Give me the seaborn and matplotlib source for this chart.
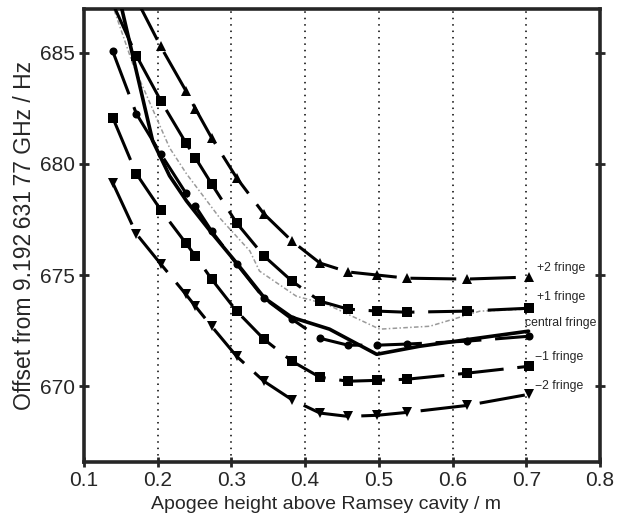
import numpy as np
import pandas as pd
import matplotlib
matplotlib.use("Agg")
import matplotlib.pyplot as plt
import seaborn as sns

# Apogee heights (m) at which each fringe was measured
heights = [0.139, 0.171, 0.204, 0.238, 0.251, 0.273, 0.307, 0.344,
           0.382, 0.420, 0.458, 0.498, 0.538, 0.619, 0.703]

# Frequency offsets (Hz) of each fringe
plus2 = [np.nan, 687.4, 685.27, 683.29, 682.48, 681.17, 679.37, 677.75,
         676.53, 675.54, 675.14, 675.00, 674.86, 674.82, 674.91]
plus1 = [687.2, 684.86, 682.84, 680.95, 680.27, 679.10, 677.34, 675.86,
         674.73, 673.83, 673.47, 673.38, 673.33, 673.38, 673.51]
central = [685.05, 682.25, 680.45, 678.69, 678.10, 676.98, 675.50, 673.96,
           673.02, 672.16, 671.85, 671.85, 671.90, 672.03, 672.25]
minus1 = [682.07, 679.55, 677.93, 676.44, 675.86, 674.82, 673.38, 672.12,
          671.13, 670.41, 670.23, 670.27, 670.32, 670.59, 670.90]
minus2 = [679.14, 676.85, 675.50, 674.14, 673.60, 672.70, 671.35, 670.23,
          669.40, 668.80, 668.65, 668.70, 668.83, 669.14, 669.64]

# Smooth curves drawn without markers
model_h = [0.151, 0.193, 0.216, 0.239, 0.273, 0.308, 0.345, 0.382,
           0.433, 0.497, 0.555, 0.633, 0.703]
model_f = [687.0, 681.04, 679.46, 678.33, 676.90, 675.50, 673.96, 673.10,
           672.57, 671.44, 671.80, 672.16, 672.48]
grey_h = [0.141, 0.166, 0.216, 0.239, 0.284, 0.325, 0.338, 0.388,
          0.429, 0.501, 0.569, 0.637, 0.705]
grey_f = [686.9, 684.5, 680.72, 679.55, 677.57, 676.08, 675.18, 674.05,
          673.69, 672.57, 672.70, 673.38, 673.47]

fringe_labels = ["+2 fringe", "+1 fringe", "central fringe",
                 "\u22121 fringe", "\u22122 fringe"]

sns.set_theme(style="ticks")
plt.rcParams["font.family"] = ["Liberation Sans", "DejaVu Sans"]

fig = plt.figure(figsize=(6.21, 5.20), dpi=100)
ax = fig.add_axes([0.1353, 0.1115, 0.831, 0.871])

# dotted vertical guides
for gx in [0.2, 0.3, 0.4, 0.5, 0.6, 0.7]:
    ax.axvline(gx, color="black", lw=1.1, ls=(0, (1, 3.2)), zorder=0)

sns.lineplot(x=grey_h, y=grey_f, ax=ax, color="#9a9a9a", lw=1.1,
             ls=(0, (3, 1.5, 1, 1.5)), sort=False, zorder=2)
sns.lineplot(x=model_h, y=model_f, ax=ax, color="black", lw=2.6,
             sort=False, zorder=3)

dash = (0, (15, 4.5))
series = [(plus2, "^", 7.5), (plus1, "s", 7), (central, "o", 5.8),
          (minus1, "s", 7), (minus2, "v", 7.5)]
for vals, mk, ms in series:
    df = pd.DataFrame({"h": heights, "f": vals}).dropna()
    sns.lineplot(data=df, x="h", y="f", ax=ax, color="black", lw=2.2,
                 ls=dash, marker=mk, markersize=ms, markeredgewidth=0,
                 sort=False, zorder=4)

# labels at the right end of each fringe
label_y = [675.3, 674.0, 672.85, 671.3, 670.0]
label_x = [0.714, 0.714, 0.698, 0.712, 0.712]
for lx, ly, txt in zip(label_x, label_y, fringe_labels):
    ax.text(lx, ly, txt, fontsize=8.8, va="center", ha="left")

ax.set_xlim(0.1, 0.8)
ax.set_ylim(666.6, 686.95)
ax.set_xticks([0.1, 0.2, 0.3, 0.4, 0.5, 0.6, 0.7, 0.8])
ax.set_yticks([670, 675, 680, 685])
ax.tick_params(axis="both", direction="inout", length=7, width=2,
               labelsize=15, top=False, right=True, pad=3)
for sp in ax.spines.values():
    sp.set_linewidth(2.6)
    sp.set_visible(True)

ax.set_xlabel("Apogee height above Ramsey cavity / m", fontsize=14)
ax.xaxis.set_label_coords(0.469, -0.074)
ax.set_ylabel("Offset from 9.192\u2009631\u200977 GHz / Hz", fontsize=16.5)
ax.yaxis.set_label_coords(-0.094, 0.5)

fig.savefig("out.png", dpi=100)
